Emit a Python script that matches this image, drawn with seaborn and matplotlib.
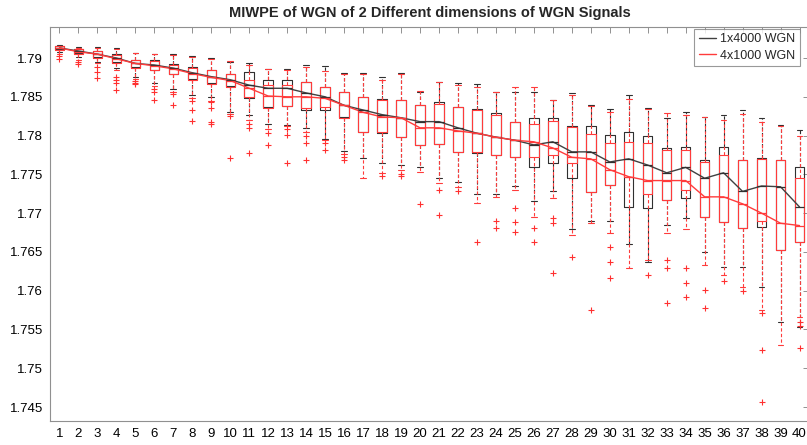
import matplotlib
matplotlib.use("Agg")
import matplotlib.pyplot as plt
import seaborn as sns
from matplotlib.ticker import FuncFormatter, MultipleLocator

positions = list(range(1, 41))
series_names = ["1x4000 WGN", "4x1000 WGN"]

# 1x4000 WGN (black)
k_med = [1.7913, 1.7909, 1.7905, 1.7900, 1.7893, 1.7891, 1.7887, 1.7881, 1.7876, 1.7872,
         1.7865, 1.7861, 1.7861, 1.7855, 1.7850, 1.7839, 1.7833, 1.7827, 1.7823, 1.7818,
         1.7818, 1.7810, 1.7803, 1.7798, 1.7794, 1.7788, 1.7792, 1.7779, 1.7779, 1.7766,
         1.7770, 1.7762, 1.7752, 1.7759, 1.7745, 1.7752, 1.7728, 1.7735, 1.7734, 1.7708]
k_q3 = [1.7915, 1.7911, 1.7909, 1.7905, 1.7898, 1.7897, 1.7892, 1.7888, 1.7885, 1.7880,
        1.7882, 1.7872, 1.7872, 1.7869, 1.7863, 1.7856, 1.7850, 1.7847, 1.7846, 1.7839,
        1.7843, 1.7837, 1.7834, 1.7829, 1.7817, 1.7823, 1.7823, 1.7812, 1.7813, 1.7801,
        1.7805, 1.7800, 1.7784, 1.7785, 1.7768, 1.7785, 1.7768, 1.7771, 1.7768, 1.7760]
k_q1 = [1.7911, 1.7906, 1.7901, 1.7895, 1.7888, 1.7885, 1.7880, 1.7873, 1.7868, 1.7864,
        1.7848, 1.7837, 1.7838, 1.7833, 1.7833, 1.7824, 1.7805, 1.7803, 1.7798, 1.7788,
        1.7789, 1.7779, 1.7778, 1.7775, 1.7772, 1.7760, 1.7765, 1.7745, 1.7727, 1.7736,
        1.7708, 1.7707, 1.7717, 1.7720, 1.7695, 1.7689, 1.7681, 1.7682, 1.7652, 1.7663]
k_hi = [1.7917, 1.7914, 1.7914, 1.7913, 1.7906, 1.7905, 1.7905, 1.7903, 1.7900, 1.7895,
        1.7894, 1.7886, 1.7886, 1.7891, 1.7890, 1.7881, 1.7881, 1.7876, 1.7881, 1.7856,
        1.7869, 1.7868, 1.7866, 1.7856, 1.7856, 1.7856, 1.7846, 1.7855, 1.7839, 1.7834,
        1.7852, 1.7836, 1.7823, 1.7830, 1.7824, 1.7827, 1.7833, 1.7823, 1.7814, 1.7807]
k_lo = [1.7908, 1.7901, 1.7895, 1.7887, 1.7876, 1.7868, 1.7860, 1.7852, 1.7850, 1.7830,
        1.7827, 1.7815, 1.7814, 1.7810, 1.7796, 1.7780, 1.7771, 1.7765, 1.7762, 1.7760,
        1.7745, 1.7740, 1.7725, 1.7725, 1.7735, 1.7716, 1.7728, 1.7680, 1.7690, 1.7690,
        1.7660, 1.7637, 1.7685, 1.7694, 1.7650, 1.7631, 1.7630, 1.7605, 1.7560, 1.7553]

# 4x1000 WGN (red)
r_med = [1.7913, 1.7908, 1.7905, 1.7899, 1.7893, 1.7890, 1.7886, 1.7880, 1.7875, 1.7871,
         1.7861, 1.7851, 1.7850, 1.7850, 1.7848, 1.7839, 1.7830, 1.7824, 1.7823, 1.7810,
         1.7810, 1.7806, 1.7803, 1.7798, 1.7794, 1.7792, 1.7784, 1.7772, 1.7770, 1.7756,
         1.7747, 1.7742, 1.7742, 1.7742, 1.7721, 1.7721, 1.7712, 1.7700, 1.7687, 1.7684]
r_q3 = [1.7915, 1.7911, 1.7909, 1.7904, 1.7898, 1.7896, 1.7891, 1.7887, 1.7884, 1.7879,
        1.7872, 1.7865, 1.7865, 1.7869, 1.7862, 1.7856, 1.7850, 1.7846, 1.7846, 1.7840,
        1.7841, 1.7837, 1.7833, 1.7826, 1.7817, 1.7815, 1.7819, 1.7811, 1.7802, 1.7790,
        1.7792, 1.7790, 1.7781, 1.7782, 1.7766, 1.7775, 1.7768, 1.7770, 1.7768, 1.7745]
r_q1 = [1.7910, 1.7905, 1.7900, 1.7894, 1.7887, 1.7884, 1.7879, 1.7872, 1.7866, 1.7862,
        1.7850, 1.7836, 1.7838, 1.7835, 1.7837, 1.7823, 1.7805, 1.7804, 1.7798, 1.7788,
        1.7789, 1.7779, 1.7779, 1.7775, 1.7772, 1.7772, 1.7775, 1.7765, 1.7727, 1.7736,
        1.7747, 1.7725, 1.7717, 1.7730, 1.7695, 1.7689, 1.7681, 1.7690, 1.7652, 1.7663]
r_hi = [1.7916, 1.7913, 1.7913, 1.7911, 1.7906, 1.7905, 1.7904, 1.7901, 1.7899, 1.7896,
        1.7891, 1.7886, 1.7884, 1.7889, 1.7883, 1.7879, 1.7880, 1.7872, 1.7880, 1.7858,
        1.7869, 1.7865, 1.7862, 1.7856, 1.7862, 1.7862, 1.7846, 1.7852, 1.7838, 1.7830,
        1.7847, 1.7834, 1.7829, 1.7826, 1.7824, 1.7820, 1.7828, 1.7818, 1.7812, 1.7800]
r_lo = [1.7905, 1.7898, 1.7893, 1.7884, 1.7873, 1.7864, 1.7856, 1.7848, 1.7845, 1.7828,
        1.7820, 1.7808, 1.7812, 1.7805, 1.7794, 1.7776, 1.7745, 1.7752, 1.7756, 1.7753,
        1.7739, 1.7734, 1.7713, 1.7721, 1.7730, 1.7695, 1.7720, 1.7672, 1.7687, 1.7674,
        1.7629, 1.7640, 1.7675, 1.7680, 1.7633, 1.7620, 1.7605, 1.7575, 1.7530, 1.7566]

# outliers ('+'), one list per position
r_out = [[1.7899, 1.7903], [1.7895, 1.7892], [1.7888, 1.7882, 1.7874],
         [1.7876, 1.7872, 1.7868, 1.7859], [1.7870, 1.7868, 1.7866],
         [1.7860, 1.7856, 1.7846], [1.7853, 1.7839], [1.7845, 1.7833, 1.7819],
         [1.7843, 1.7835, 1.7818, 1.7815], [1.7825, 1.7771], [1.7815, 1.7810, 1.7778],
         [1.7803, 1.7788], [1.7808, 1.7801, 1.7765], [1.7800, 1.7790, 1.7768],
         [1.7790, 1.7781], [1.7772, 1.7768], [], [1.7748], [1.7751, 1.7748], [1.7712],
         [1.7730, 1.7698], [1.7728], [1.7663], [1.7690, 1.7681],
         [1.7707, 1.7689, 1.7676], [1.7681, 1.7663], [1.7694, 1.7687, 1.7623], [1.7643],
         [1.7575], [1.7656, 1.7637, 1.7616], [], [1.7620], [1.7640, 1.7629, 1.7584],
         [1.7629, 1.7610, 1.7592], [1.7601, 1.7578], [1.7612], [1.7600],
         [1.7571, 1.7524, 1.7457], [], [1.7560, 1.7555, 1.7526]]

sns.set_style("white")
plt.rcParams["font.family"] = ["Liberation Sans", "DejaVu Sans"]

fig = plt.figure(figsize=(8.07, 4.45), dpi=100)
ax = fig.add_axes([50 / 807, 24 / 445, 759 / 807, 394 / 445])

def draw(med, q1, q3, lo, hi, outs, color):
    stats = [{"med": m, "q1": a, "q3": b, "whislo": l, "whishi": h, "fliers": f}
             for m, a, b, l, h, f in zip(med, q1, q3, lo, hi, outs)]
    ax.bxp(stats, positions=positions, widths=0.5, capwidths=0.3, showfliers=True,
           boxprops=dict(color=color, lw=0.8),
           whiskerprops=dict(color=color, lw=0.8, ls=(0, (3, 2))),
           capprops=dict(color=color, lw=0.8),
           medianprops=dict(color=color, lw=0.9),
           flierprops=dict(marker="+", markeredgecolor="#ff3030", markersize=5, mew=0.8))

empty = [[] for _ in positions]
draw(k_med, k_q1, k_q3, k_lo, k_hi, empty, "#303030")
draw(r_med, r_q1, r_q3, r_lo, r_hi, r_out, "#ff3b3b")

sns.lineplot(x=positions, y=k_med, ax=ax, color="#404040", lw=1.0, label=series_names[0])
sns.lineplot(x=positions, y=r_med, ax=ax, color="#ff3b3b", lw=1.0, label=series_names[1])

ax.set_xlim(0.5, 40.5)
ax.set_ylim(1.7432, 1.794)
ax.set_xticks(positions)
ax.set_xticklabels([str(p) for p in positions])
ax.yaxis.set_major_locator(MultipleLocator(0.005))
ax.yaxis.set_major_formatter(FuncFormatter(lambda v, p: f"{v:.3f}".rstrip("0")))
ax.tick_params(direction="in", top=True, right=True, length=4, width=0.6,
               color="#808080", labelsize=9.5, labelcolor="black", pad=5)
for s in ax.spines.values():
    s.set_color("#909090")
    s.set_linewidth(0.8)

ax.set_title("MIWPE of WGN of 2 Different dimensions of WGN Signals",
             fontsize=10.5, fontweight="bold", pad=7)
leg = ax.legend(loc="upper right", bbox_to_anchor=(0.99, 1.0), borderaxespad=0.15,
                fontsize=9, frameon=True, fancybox=False, handlelength=1.4,
                handletextpad=0.3, borderpad=0.35, labelspacing=0.35)
leg.get_frame().set_edgecolor("#808080")
leg.get_frame().set_linewidth(0.8)

fig.savefig("out.png", dpi=100)
